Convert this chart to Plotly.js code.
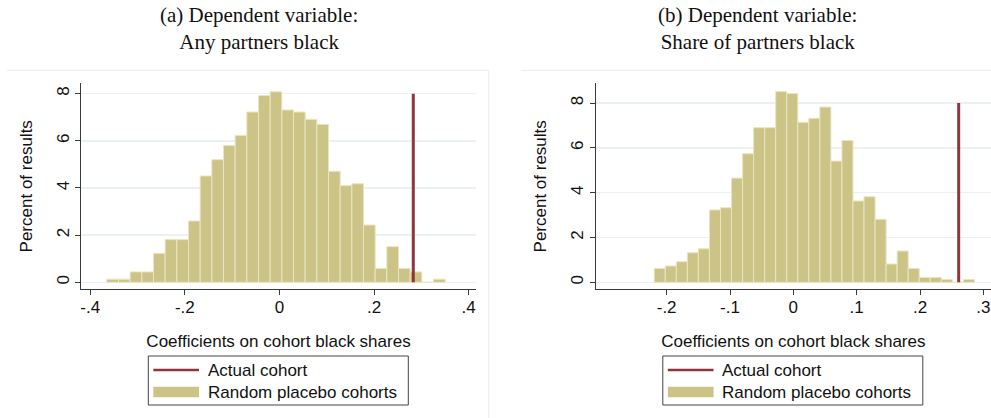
<!DOCTYPE html>
<html>
<head>
<meta charset="utf-8">
<script src="https://cdn.plot.ly/plotly-3.0.1.min.js"></script>
<style>
  html, body { margin: 0; padding: 0; background: #ffffff; }
  #chart { width: 991px; height: 418px; }
</style>
</head>
<body>
<div id="chart"></div>
<script>
// ---- Data: placebo coefficient histograms (percent of results per bin) ----
// Panel (a): dependent variable = any partners black
const anyBinStart = -0.365;
const anyBinWidth = 0.02467;
const anyPercent = [0.13, 0.13, 0.44, 0.44, 1.23, 1.81, 1.81, 2.60, 4.51, 5.20,
                    5.80, 6.23, 7.22, 7.92, 8.08, 7.31, 7.22, 6.91, 6.70, 4.71,
                    4.10, 4.18, 2.43, 0.59, 1.51, 0.59, 0.44, 0.00, 0.13];
const anyActual = 0.283;

// Panel (b): dependent variable = share of partners black
const shareBinStart = -0.2196;
const shareBinWidth = 0.01743;
const sharePercent = [0.62, 0.73, 0.92, 1.32, 1.50, 3.23, 3.33, 4.65, 5.74, 6.90,
                      6.90, 8.51, 8.42, 7.14, 7.32, 7.82, 5.41, 6.33, 3.63, 3.82,
                      2.81, 0.82, 1.40, 0.62, 0.22, 0.22, 0.13, 0.00, 0.13];
const shareActual = 0.261;

// Height of the vertical "actual cohort" marker line
const actualLineTop = 8;

// Tick labels
const yTicks = [0, 2, 4, 6, 8];
const anyXTicks = [-0.4, -0.2, 0, 0.2, 0.4];
const anyXLabels = ['-.4', '-.2', '0', '.2', '.4'];
const shareXTicks = [-0.2, -0.1, 0, 0.1, 0.2, 0.3];
const shareXLabels = ['-.2', '-.1', '0', '.1', '.2', '.3'];

// Text
const panelTitles = ['(a) Dependent variable:<br>Any partners black',
                     '(b) Dependent variable:<br>Share of partners black'];
const xTitle = 'Coefficients on cohort black shares';
const yTitle = 'Percent of results';
const legendLabels = ['Actual cohort', 'Random placebo cohorts'];

// ---- Styling ----
const W = 991, H = 418;
const KHAKI = 'rgb(204,196,134)';
const KHAKI_EDGE = 'rgb(233,229,192)';
const MAROON = 'rgb(144,53,59)';
const GRID = 'rgb(234,241,243)';
const AXIS = '#3a3a3a';
const SANS = 'Liberation Sans, Arial, sans-serif';
const SERIF = 'Liberation Serif, Times New Roman, serif';
const px = x => x / W;          // pixel -> paper x
const py = y => 1 - y / H;      // pixel -> paper y

function histTrace(start, width, values, xa, ya) {
  return {
    type: 'bar', x0: start + width / 2, dx: width, y: values, width: width,
    marker: { color: KHAKI, line: { color: KHAKI_EDGE, width: 1 } },
    xaxis: xa, yaxis: ya, showlegend: false, hoverinfo: 'skip'
  };
}
function actualTrace(x, xa, ya) {
  return {
    type: 'scatter', mode: 'lines', x: [x, x], y: [0, actualLineTop],
    line: { color: MAROON, width: 3 },
    xaxis: xa, yaxis: ya, showlegend: false, hoverinfo: 'skip'
  };
}

const data = [
  histTrace(anyBinStart, anyBinWidth, anyPercent, 'x', 'y'),
  actualTrace(anyActual, 'x', 'y'),
  histTrace(shareBinStart, shareBinWidth, sharePercent, 'x2', 'y2'),
  actualTrace(shareActual, 'x2', 'y2')
];

const tickFont = { family: SANS, size: 17, color: '#111' };
const titleFont = { family: SANS, size: 17, color: '#111' };

function xAxis(domain, range, vals, labels, anchor) {
  return {
    domain: domain, range: range, anchor: anchor,
    tickmode: 'array', tickvals: vals, ticktext: labels,
    ticks: 'outside', ticklen: 5, tickwidth: 1, tickcolor: AXIS,
    ticklabelstandoff: -3,
    showline: true, linecolor: AXIS, linewidth: 1,
    showgrid: false, zeroline: false, tickfont: tickFont,
    title: { text: xTitle, font: titleFont, standoff: 19 }
  };
}
function yAxis(range, anchor) {
  return {
    domain: [py(289.3), py(83.3)], range: range, anchor: anchor,
    tickmode: 'array', tickvals: yTicks, tickangle: -90,
    ticks: 'outside', ticklen: 5, tickwidth: 1, tickcolor: AXIS,
    showline: true, linecolor: AXIS, linewidth: 1,
    showgrid: true, gridcolor: GRID, gridwidth: 1.5, zeroline: false,
    tickfont: tickFont,
    title: { text: yTitle, font: titleFont, standoff: 16 }
  };
}

// Legend box drawn from shapes + text, offset per panel
function legendShapes(dx) {
  return [
    { type: 'rect', xref: 'paper', yref: 'paper',
      x0: px(148.3 + dx), x1: px(408.3 + dx), y0: py(405), y1: py(356),
      line: { color: '#444', width: 1 }, fillcolor: 'rgba(0,0,0,0)' },
    { type: 'line', xref: 'paper', yref: 'paper',
      x0: px(153.3 + dx), x1: px(199 + dx), y0: py(370), y1: py(370),
      line: { color: MAROON, width: 2.5 } },
    { type: 'rect', xref: 'paper', yref: 'paper',
      x0: px(153.3 + dx), x1: px(199 + dx), y0: py(397.3), y1: py(386.7),
      line: { width: 0 }, fillcolor: KHAKI }
  ];
}
function legendText(dx) {
  return [
    { xref: 'paper', yref: 'paper', x: px(205.5 + dx), y: py(370),
      xanchor: 'left', yanchor: 'middle', showarrow: false,
      text: legendLabels[0], font: titleFont },
    { xref: 'paper', yref: 'paper', x: px(205.5 + dx), y: py(392),
      xanchor: 'left', yanchor: 'middle', showarrow: false,
      text: legendLabels[1], font: titleFont }
  ];
}

const RIGHT_SHIFT = 514.5;

const layout = {
  width: W, height: H,
  margin: { l: 0, r: 0, t: 0, b: 0 },
  paper_bgcolor: '#ffffff', plot_bgcolor: 'rgba(0,0,0,0)',
  showlegend: false,
  bargap: 0,
  xaxis: xAxis([px(81.3), px(475.7)], [-0.419, 0.415], anyXTicks, anyXLabels, 'y'),
  yaxis: yAxis([-0.297, 8.44], 'x'),
  xaxis2: xAxis([px(595.7), 1], [-0.312, 0.312], shareXTicks, shareXLabels, 'y2'),
  yaxis2: yAxis([-0.31, 8.88], 'x2'),
  shapes: [
    // panel frames
    { type: 'line', xref: 'paper', yref: 'paper', x0: px(7), x1: px(488.7),
      y0: py(70.3), y1: py(70.3), line: { color: 'rgb(230,237,240)', width: 1 } },
    { type: 'line', xref: 'paper', yref: 'paper', x0: px(488.7), x1: px(488.7),
      y0: py(70.3), y1: 0, line: { color: 'rgb(230,237,240)', width: 1 } },
    { type: 'line', xref: 'paper', yref: 'paper', x0: px(521), x1: 1,
      y0: py(70.3), y1: py(70.3), line: { color: 'rgb(230,237,240)', width: 1 } }
  ].concat(legendShapes(0), legendShapes(RIGHT_SHIFT)),
  annotations: [
    { xref: 'paper', yref: 'paper', x: px(259), y: py(28.3),
      xanchor: 'center', yanchor: 'middle', showarrow: false,
      text: panelTitles[0], font: { family: SERIF, size: 21, color: '#111' } },
    { xref: 'paper', yref: 'paper', x: px(757), y: py(28.3),
      xanchor: 'center', yanchor: 'middle', showarrow: false,
      text: panelTitles[1], font: { family: SERIF, size: 21, color: '#111' } }
  ].concat(legendText(0), legendText(RIGHT_SHIFT))
};

Plotly.newPlot('chart', data, layout, { displayModeBar: false, staticPlot: true });
</script>
</body>
</html>
